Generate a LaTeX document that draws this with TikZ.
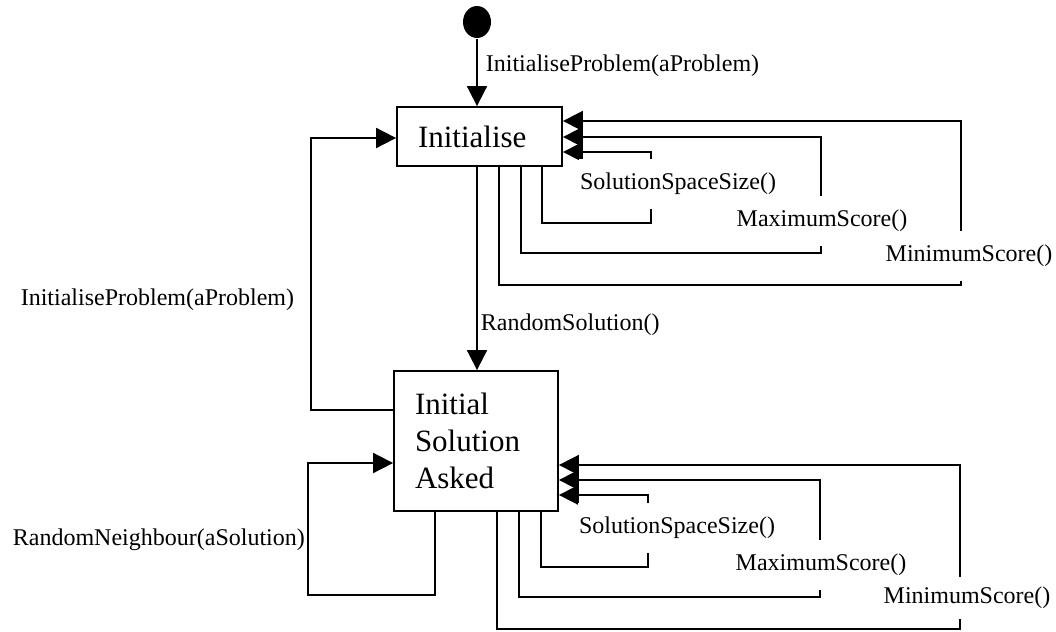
\documentclass[tikz,border=0pt]{standalone}
\usepackage{fontspec}
\setmainfont{Liberation Serif}
\usetikzlibrary{arrows.meta,shapes.geometric}
\begin{document}
\begin{tikzpicture}[x=1pt,y=-1pt,
  line width=1.8pt,
  arr/.style={-{Triangle[length=20pt,width=20pt]}},
  statebox/.style={draw, rectangle, inner sep=0pt, inner xsep=21pt, align=left, font=\fontsize{31}{37}\selectfont},
  lbl/.style={font=\fontsize{24}{29}\selectfont, inner sep=1pt},
  gaplbl/.style={lbl, fill=white, minimum height=50pt},
]
\useasboundingbox (0,0) rectangle (1056,631);

% states
\node[ellipse, fill=black, minimum width=28pt, minimum height=32pt, inner sep=0pt] (start) at (477,22) {};
\node[statebox, text width=123pt, minimum height=59pt] (init) at (479.5,136.5) {Initialise};
\node[statebox, text width=122pt, minimum height=140pt] (isa) at (476,441) {Initial\\Solution\\Asked};

% initial transition
\draw[arr] (start.south) -- (init.north -| start.south);
\node[lbl, anchor=west] (l1) at (484,66) {InitialiseProblem(aProblem)};

% Initialise -> Initial Solution Asked
\draw[arr] (init.south -| start.south) -- (isa.north -| start.south);
\node[lbl, anchor=west] (l2) at (479,325) {RandomSolution()};

% Initial Solution Asked -> Initialise
\draw[arr] (isa.west |- 0,410) -| (311,138) -- (init.west |- 0,138);
\node[lbl, anchor=east] (l3) at (296,300) {InitialiseProblem(aProblem)};

% RandomNeighbour self loop
\draw[arr] (isa.south -| 435,0) |- (308,595) |- (isa.west |- 0,463);
\node[lbl, anchor=west] (l4) at (11,540) {RandomNeighbour(aSolution)};

% Initialise self loops
\draw[arr] (init.south -| 542,0) |- (651,223) |- (init.east |- 0,152);
\draw[arr] (init.south -| 521,0) |- (821,253) |- (init.east |- 0,137);
\draw[arr] (init.south -| 499,0) |- (961,285) |- (init.east |- 0,121);
\node[gaplbl] (s1) at (678,184) {SolutionSpaceSize()};
\node[gaplbl] (m1) at (822,221) {MaximumScore()};
\node[gaplbl] (n1) at (969,256) {MinimumScore()};

% Initial Solution Asked self loops
\draw[arr] (isa.south -| 541,0) |- (648,567) |- (isa.east |- 0,495);
\draw[arr] (isa.south -| 519,0) |- (820,597) |- (isa.east |- 0,480);
\draw[arr] (isa.south -| 497,0) |- (960,629) |- (isa.east |- 0,465);
\node[gaplbl] (s2) at (677,528) {SolutionSpaceSize()};
\node[gaplbl] (m2) at (821,565) {MaximumScore()};
\node[gaplbl, minimum height=42pt] (n2) at (967,598) {MinimumScore()};
\end{tikzpicture}
\end{document}
